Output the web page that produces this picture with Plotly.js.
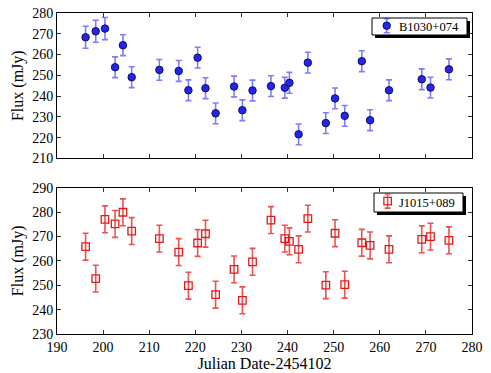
<!DOCTYPE html>
<html><head><meta charset="utf-8">
<script src="https://cdn.plot.ly/plotly-3.0.1.min.js"></script>
<style>body{margin:0;background:#fff}#c{width:491px;height:373px}</style>
</head><body><div id="c"></div>
<script>
const dates = [196.2,198.4,200.4,202.6,204.3,206.2,212.2,216.4,218.5,220.5,222.2,224.4,228.4,230.2,232.4,236.4,239.4,240.4,242.4,244.4,248.3,250.3,252.4,256.1,257.9,262.0,269.1,271.0,275.0];
const fluxB = [268.3,271.2,272.5,253.9,264.5,249.1,252.6,252.1,242.8,258.5,243.8,231.7,244.6,233.2,242.7,244.8,244.0,246.4,221.6,256.1,227.0,238.9,230.5,256.8,228.4,242.8,248.1,244.1,252.9];
const errB = [5.3,5.3,5.3,5.0,5.0,5.0,5.0,5.0,5.0,5.0,5.0,5.0,5.0,5.0,5.0,5.0,5.0,5.0,5.0,5.0,5.0,5.0,5.0,5.0,5.0,5.0,5.0,5.0,5.0];
const fluxJ = [265.8,252.7,277.0,275.1,279.9,272.2,269.1,263.6,249.8,267.3,271.1,246.1,256.5,243.8,259.6,276.7,269.1,268.0,264.7,277.3,250.0,271.3,250.2,267.4,266.3,264.7,268.8,269.9,268.4];
const errJ = [5.5,5.5,5.5,5.5,5.5,5.5,5.5,5.5,5.5,5.5,5.5,5.5,5.5,5.5,5.5,5.5,5.5,5.5,5.5,5.5,5.5,5.5,5.5,5.5,5.5,5.5,5.5,5.5,5.5];
const nameB = "B1030+074", nameJ = "J1015+089";
const xTicks = [190,200,210,220,230,240,250,260,270,280];
const yTicksTop = [210,220,230,240,250,260,270,280];
const yTicksBot = [230,240,250,260,270,280,290];

const F = "Liberation Serif, Times New Roman, serif";
const mB = {symbol: 'circle', size: 7.5, color: '#2424f0', line: {color: '#10105a', width: 1}};
const mJ = {symbol: 'square-open', size: 7.5, color: '#e41a1a', line: {color: '#e41a1a', width: 1.3}};
const eB = 'rgba(40,40,240,0.6)', eJ = 'rgba(228,26,26,0.75)';
const traces = [
 {x: dates, y: fluxB, name: nameB, type: 'scatter', mode: 'markers', xaxis: 'x2', yaxis: 'y2', marker: mB,
  error_y: {type: 'data', array: errB, visible: true, color: eB, thickness: 1.6, width: 3}},
 {x: dates, y: fluxJ, name: nameJ, type: 'scatter', mode: 'markers', xaxis: 'x', yaxis: 'y', marker: mJ,
  error_y: {type: 'data', array: errJ, visible: true, color: eJ, thickness: 1.6, width: 3}}
];
const ax = {showline: true, linecolor: '#000', linewidth: 1, mirror: 'ticks', ticks: 'inside', ticklen: 4, tickcolor: '#333',
  showgrid: false, zeroline: false, tickfont: {family: F, size: 14, color: '#000'}};
const layout = {
 width: 491, height: 373, margin: {l: 57, r: 19, t: 13, b: 39}, paper_bgcolor: '#fff', plot_bgcolor: '#fff',
 showlegend: false,
 font: {family: F, color: '#000'},
 xaxis: Object.assign({}, ax, {range: [190, 280], tickvals: xTicks, anchor: 'y',
   title: {text: 'Julian Date-2454102', font: {family: F, size: 16}, standoff: 2}}),
 yaxis: Object.assign({}, ax, {range: [230, 290], tickvals: yTicksBot, domain: [0, 0.456], anchor: 'x',
   title: {text: 'Flux (mJy)', font: {family: F, size: 16}, standoff: 4}}),
 xaxis2: Object.assign({}, ax, {range: [190, 280], tickvals: xTicks, showticklabels: false, anchor: 'y2'}),
 yaxis2: Object.assign({}, ax, {range: [210, 280], tickvals: yTicksTop, domain: [0.547, 1], anchor: 'x2',
   title: {text: 'Flux (mJy)', font: {family: F, size: 16}, standoff: 4}}),
 shapes: [], annotations: []
};
function legendBox(x0, x1, y0, y1, label) {
  layout.shapes.push({type: 'rect', xref: 'paper', yref: 'paper', x0: x0 + 3/415, x1: x1 + 3/415, y0: y0 - 3/321, y1: y1 - 3/321, fillcolor: '#000', line: {width: 0}, layer: 'below'});
  layout.shapes.push({type: 'rect', xref: 'paper', yref: 'paper', x0: x0, x1: x1, y0: y0, y1: y1, fillcolor: '#fff', line: {color: '#000', width: 1}, layer: 'below'});
  layout.annotations.push({xref: 'paper', yref: 'paper', x: x1 - 6/415, y: (y0 + y1) / 2, xanchor: 'right', yanchor: 'middle', showarrow: false, text: label, font: {family: F, size: 12.5, color: '#000'}});
}
legendBox((372-57)/415, (467-57)/415, (334-35)/321, (334-18)/321, nameB);
legendBox((374-57)/415, (463-57)/415, (334-212)/321, (334-193)/321, nameJ);
// legend symbols
traces.push({x: [261.5], y: [273.9], xaxis: 'x2', yaxis: 'y2', mode: 'markers', hoverinfo: 'skip', marker: mB,
  error_y: {type: 'data', array: [3.4], visible: true, color: eB, thickness: 1.6, width: 3}});
traces.push({x: [261.7], y: [284.5], xaxis: 'x', yaxis: 'y', mode: 'markers', hoverinfo: 'skip', marker: mJ,
  error_y: {type: 'data', array: [2.9], visible: true, color: eJ, thickness: 1.6, width: 3}});
Plotly.newPlot('c', traces, layout, {staticPlot: true});
</script></body></html>
